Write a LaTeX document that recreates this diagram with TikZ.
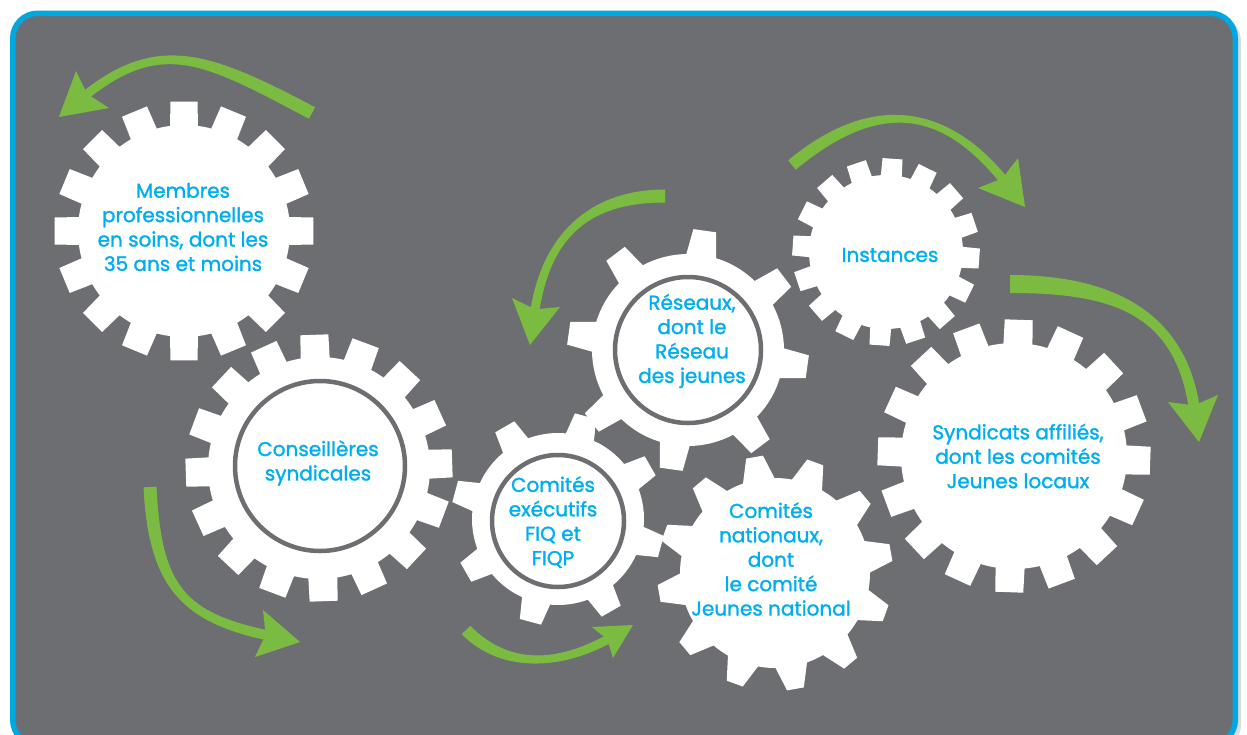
\documentclass[tikz,border=0pt]{standalone}
\usepackage{fontspec}
\setmainfont{Poppins}[FakeBold=1.4]
\usetikzlibrary{calc}
\definecolor{bg}{HTML}{6D6E71}
\definecolor{frameblue}{HTML}{00A8E1}
\definecolor{txtblue}{HTML}{00AEEF}
\definecolor{agreen}{HTML}{7CBB42}
% #1 centre, #2 teeth, #3 root radius, #4 outer radius, #5 base half-width, #6 tip half-width, #7 offset angle
\newcommand\gear[7]{%
  \fill[gearfill,shift={#1}] ({#7-asin(#5/#3)}:#3)
  \foreach \i in {1,...,#2}{
    -- ({#7+(\i-1)*360/#2-asin(#6/#4)}:#4)
    -- ({#7+(\i-1)*360/#2+asin(#6/#4)}:#4)
    -- ({#7+(\i-1)*360/#2+asin(#5/#3)}:#3)
    arc[start angle={#7+(\i-1)*360/#2+asin(#5/#3)}, end angle={#7+\i*360/#2-asin(#5/#3)}, radius=#3]
  } -- cycle;}
% #1 P0, #2 P1, #3 P2, #4 shaft end, #5 half width start, #6 half width end, #7 barb, #8 tip, #9 barb
\newcommand\garrow[9]{%
  \fill[arrowfill] ($#1!#5!90:#2$) .. controls ($#2!#5!-90:#1$) and ($#3!#6!90:#4$) .. ($#4!#6!-90:#3$)
    -- ($#4!#6!90:#3$) .. controls ($#3!#6!-90:#4$) and ($#2!#5!90:#1$) .. ($#1!#5!-90:#2$) -- cycle;
  \coordinate (hm) at ($#7!.5!#9$);
  \coordinate (hn) at ($(hm)!.16!#8$);
  \fill[arrowfill] #7 -- #8 -- #9 -- (hn) -- cycle;}
\tikzset{
  gearfill/.style={fill=white},
  arrowfill/.style={fill=agreen},
  ring/.style={draw=bg, line width=4.5},
  lbl/.style={text=txtblue, align=center, inner sep=0pt, font=\fontsize{20}{24.4}\selectfont},
}
\begin{document}
\begin{tikzpicture}[x=1pt,y=1pt]
\useasboundingbox (0,0) rectangle (1247,-734);
\fill[white] (0,0) rectangle (1247,-734);
% frame
\fill[black!14, rounded corners=25] (16,-16) rectangle (1241,-750);
\draw[frameblue, line width=5.5, fill=bg, rounded corners=25] (12.75,-13.25) rectangle (1235.25,-745);
% gears
\gear{(184,-231)}{16}{106}{130}{14}{13.5}{0}
\gear{(319,-468)}{16}{111}{134}{14.5}{14}{2}
\gear{(558,-519)}{8}{86}{107}{14.5}{11}{30}
\gear{(688,-350)}{8}{96}{121}{15}{11.5}{-8}
\gear{(775,-573)}{12}{95}{118}{16}{8.5}{10}
\gear{(886,-252)}{16}{77}{94}{10.5}{10}{-4}
\gear{(1014,-456)}{16}{113}{137}{14.5}{14}{-2}
% rings
\path[ring] (320,-466) circle[radius=85];
\path[ring] (558,-521) circle[radius=66];
\path[ring] (688,-350) circle[radius=73];
% arrows
\garrow{(312,-113)}{(206,-57)}{(159,-35)}{(82,-98)}{6.5pt}{4.5pt}{(76,-71)}{(59,-117)}{(109,-108)}
\garrow{(150,-487)}{(155,-587)}{(183,-618)}{(271,-636)}{6.5pt}{5pt}{(263,-610)}{(300,-642)}{(255,-657)}
\garrow{(466,-630)}{(504.5,-669)}{(559,-667)}{(611,-637.5)}{6pt}{4.5pt}{(592,-627)}{(633,-625)}{(613,-658)}
\garrow{(665,-196)}{(590,-196)}{(545.5,-235)}{(534.3,-314.4)}{6.5pt}{4.5pt}{(512,-298)}{(530,-345)}{(560,-307)}
\garrow{(792,-165)}{(880.5,-91.4)}{(949.5,-112)}{(1005.5,-182.4)}{6pt}{4.5pt}{(978,-188)}{(1025,-207)}{(1018,-158)}
\garrow{(1010,-284)}{(1110,-284)}{(1181,-311)}{(1194.6,-410.4)}{9pt}{5.5pt}{(1168,-402)}{(1199,-442)}{(1218,-395)}
% labels
\node[lbl] (tA) at (183,-227) {Membres\\professionnelles\\en soins, dont les\\35 ans et moins};
\node[lbl] (tB) at (318,-463) {Conseillères\\syndicales};
\node[lbl] (tC) at (553,-522) {Comités\\exécutifs\\FIQ et\\FIQP};
\node[lbl] (tD) at (692,-341) {Réseaux,\\dont le\\Réseau\\des jeunes};
\node[lbl] (tE) at (771,-559) {Comités\\nationaux,\\dont\\le comité\\Jeunes national};
\node[lbl] (tF) at (890,-255) {Instances};
\node[lbl] (tG) at (1018,-456) {Syndicats affiliés,\\dont les comités\\Jeunes locaux};
\end{tikzpicture}
\end{document}
